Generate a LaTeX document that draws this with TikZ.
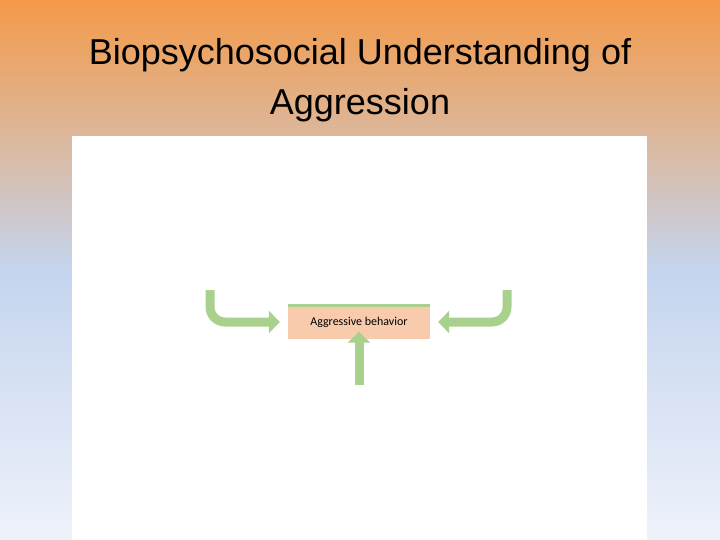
\documentclass[tikz,border=0pt]{standalone}
\usepackage{fontspec}
\setmainfont{Liberation Sans}
\newfontfamily\carl{Carlito}
\usetikzlibrary{arrows.meta}
\definecolor{topor}{HTML}{F49A48}
\definecolor{midbl}{HTML}{C4D4EE}
\definecolor{botwh}{HTML}{EEF2FA}
\definecolor{grn}{HTML}{A9D18E}
\definecolor{boxf}{HTML}{F8CBAD}
\begin{document}
\begin{tikzpicture}[x=1pt,y=-1pt,
  garrow/.style={draw=grn,line width=9pt,-{Triangle[width=22pt,length=11pt]}},
  ttl/.style={font=\fontsize{36}{50}\selectfont,align=center}]
\useasboundingbox (0,0) rectangle (720,540);
\shade[top color=topor,bottom color=midbl] (0,0) rectangle (720,270);
\shade[top color=midbl,bottom color=botwh] (0,270) rectangle (720,540);
\fill[white] (72,136) rectangle (647,540);
\node[ttl] (title) at (360,80) {Biopsychosocial Understanding of\\Aggression};
\node[fill=boxf,minimum width=142pt,minimum height=33pt,inner sep=0pt,font=\carl\fontsize{12}{14}\selectfont] (box) at (359,322) {Aggressive behavior};
\draw[grn,line width=3pt] (box.north west) -- (box.north east);
\coordinate (l0) at (210,290);
\coordinate (r0) at (507,290);
\coordinate (b0) at (359,385);
\draw[garrow] (l0) -- (210,307) arc[start angle=180,end angle=90,radius=15] -- ([xshift=-8pt]box.west);
\draw[garrow] (r0) -- (507,307) arc[start angle=0,end angle=90,radius=15] -- ([xshift=8pt]box.east);
\draw[garrow] (b0) -- ([yshift=7pt]box.south);
\end{tikzpicture}
\end{document}
